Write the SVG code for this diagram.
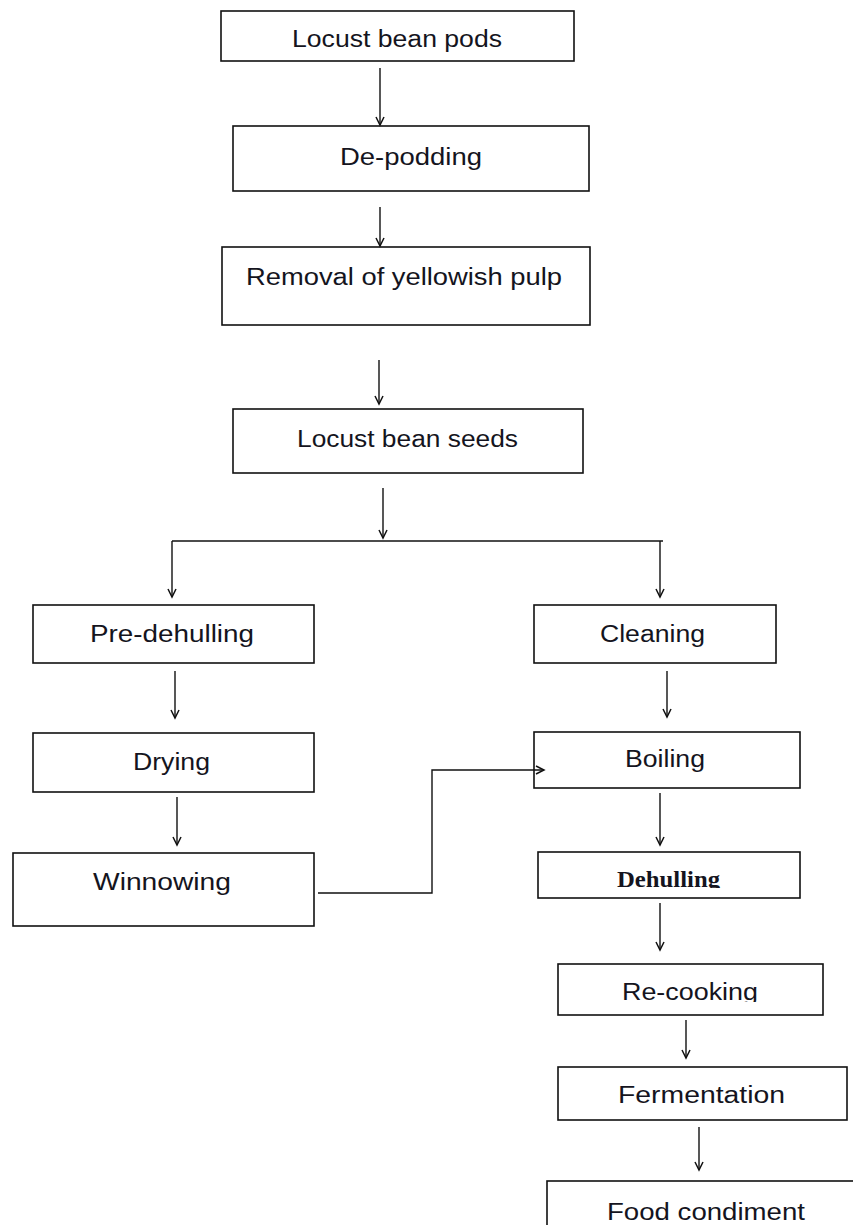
<svg xmlns="http://www.w3.org/2000/svg" width="853" height="1225" viewBox="0 0 853 1225">
<style>
.box{fill:#fff;stroke:#111;stroke-width:1.6}
.t{font-family:"Liberation Sans",Arial,sans-serif;font-size:23px;fill:#141420}
.ts{font-family:"Liberation Serif","Times New Roman",serif;font-size:23px;font-weight:bold;fill:#141420}
.c{fill:none;stroke:#111;stroke-width:1.4}
</style>
<defs>
<marker id="ah" markerUnits="userSpaceOnUse" markerWidth="12" markerHeight="12" refX="9" refY="5" orient="auto">
<path d="M1,1 L9,5 L1,9" fill="none" stroke="#111" stroke-width="1.5"/>
</marker>
<clipPath id="cDeh"><rect x="538" y="852" width="262" height="36"/></clipPath>
<clipPath id="cRec"><rect x="558" y="964" width="265" height="38"/></clipPath>
</defs>
<rect width="853" height="1225" fill="#fff"/>
<g id="n1"><rect class="box" x="221" y="11" width="353" height="50"/><text class="t" x="292" y="47" textLength="210" lengthAdjust="spacingAndGlyphs">Locust bean pods</text></g>
<g id="n2"><rect class="box" x="233" y="126" width="356" height="65"/><text class="t" x="340" y="165" textLength="142" lengthAdjust="spacingAndGlyphs">De-podding</text></g>
<g id="n3"><rect class="box" x="222" y="247" width="368" height="78"/><text class="t" x="246" y="285" textLength="316" lengthAdjust="spacingAndGlyphs">Removal of yellowish pulp</text></g>
<g id="n4"><rect class="box" x="233" y="409" width="350" height="64"/><text class="t" x="297" y="447" textLength="221" lengthAdjust="spacingAndGlyphs">Locust bean seeds</text></g>
<g id="n5"><rect class="box" x="33" y="605" width="281" height="58"/><text class="t" x="90" y="642" textLength="164" lengthAdjust="spacingAndGlyphs">Pre-dehulling</text></g>
<g id="n6"><rect class="box" x="534" y="605" width="242" height="58"/><text class="t" x="600" y="642" textLength="105" lengthAdjust="spacingAndGlyphs">Cleaning</text></g>
<g id="n7"><rect class="box" x="33" y="733" width="281" height="59"/><text class="t" x="133" y="770" textLength="77" lengthAdjust="spacingAndGlyphs">Drying</text></g>
<g id="n8"><rect class="box" x="534" y="732" width="266" height="56"/><text class="t" x="625" y="767" textLength="80" lengthAdjust="spacingAndGlyphs">Boiling</text></g>
<g id="n9"><rect class="box" x="13" y="853" width="301" height="73"/><text class="t" x="93" y="890" textLength="138" lengthAdjust="spacingAndGlyphs">Winnowing</text></g>
<g id="n10"><rect class="box" x="538" y="852" width="262" height="46"/><text class="ts" x="617" y="887" textLength="103" lengthAdjust="spacingAndGlyphs" clip-path="url(#cDeh)">Dehulling</text></g>
<g id="n11"><rect class="box" x="558" y="964" width="265" height="51"/><text class="t" x="622" y="1000" textLength="136" lengthAdjust="spacingAndGlyphs" clip-path="url(#cRec)">Re-cooking</text></g>
<g id="n12"><rect class="box" x="558" y="1067" width="289" height="53"/><text class="t" x="618" y="1103" textLength="167" lengthAdjust="spacingAndGlyphs">Fermentation</text></g>
<g id="n13"><rect class="box" x="547" y="1181" width="330" height="80"/><text class="t" x="607" y="1220" textLength="198" lengthAdjust="spacingAndGlyphs">Food condiment</text></g>
<g id="connectors">
<line class="c" x1="380" y1="68" x2="380" y2="125" marker-end="url(#ah)"/>
<line class="c" x1="380" y1="207" x2="380" y2="246" marker-end="url(#ah)"/>
<line class="c" x1="379" y1="360" x2="379" y2="404" marker-end="url(#ah)"/>
<line class="c" x1="383" y1="488" x2="383" y2="538" marker-end="url(#ah)"/>
<line class="c" x1="172" y1="541" x2="663" y2="541"/>
<line class="c" x1="172" y1="541" x2="172" y2="597" marker-end="url(#ah)"/>
<line class="c" x1="660" y1="541" x2="660" y2="597" marker-end="url(#ah)"/>
<line class="c" x1="175" y1="671" x2="175" y2="718" marker-end="url(#ah)"/>
<line class="c" x1="177" y1="797" x2="177" y2="845" marker-end="url(#ah)"/>
<line class="c" x1="667" y1="671" x2="667" y2="717" marker-end="url(#ah)"/>
<line class="c" x1="660" y1="793" x2="660" y2="845" marker-end="url(#ah)"/>
<line class="c" x1="660" y1="903" x2="660" y2="950" marker-end="url(#ah)"/>
<line class="c" x1="686" y1="1020" x2="686" y2="1058" marker-end="url(#ah)"/>
<line class="c" x1="699" y1="1127" x2="699" y2="1170" marker-end="url(#ah)"/>
<path class="c" d="M318,893 L432,893 L432,770 L544,770" marker-end="url(#ah)"/>
</g>
</svg>
